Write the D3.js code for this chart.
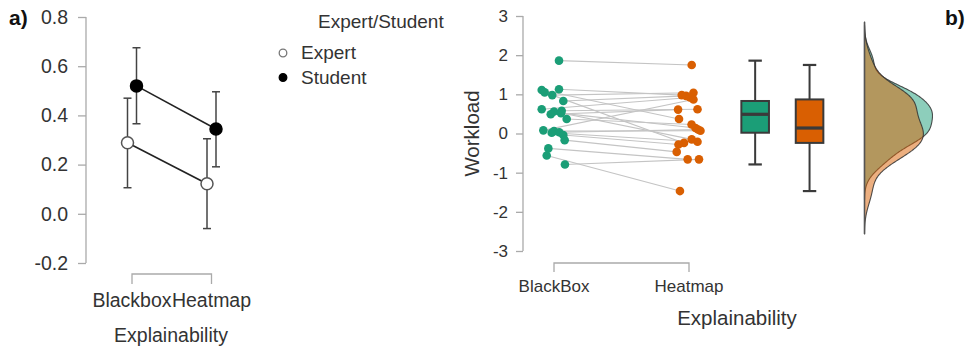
<!DOCTYPE html>
<html>
<head>
<meta charset="utf-8">
<script src="https://cdn.jsdelivr.net/npm/d3@7"></script>
<style>
  html, body { margin: 0; padding: 0; background: #fff; }
  svg { display: block; font-family: "Liberation Sans", Arial, sans-serif; }
</style>
</head>
<body>
<svg id="chart" width="968" height="347"></svg>
<script>
// ---- Panel a: descriptives (mean with 95% CI) ----
const conditionsA = ["Blackbox", "Heatmap"];
const groupsA = ["Expert", "Student"];
const meanExpert = [0.289, 0.122];
const lowerExpert = [0.106, -0.060];
const upperExpert = [0.470, 0.305];
const meanStudent = [0.520, 0.345];
const lowerStudent = [0.366, 0.191];
const upperStudent = [0.675, 0.496];
const yTicksA = [-0.2, 0.0, 0.2, 0.4, 0.6, 0.8];

// ---- Panel b: raincloud of Workload per participant ----
const conditionsB = ["BlackBox", "Heatmap"];
const workloadBlackBox = [1.86, 1.13, 1.11, 1.05, 0.98, 0.83, 0.62, 0.58, 0.56, 0.52, 0.49,
                          0.37, 0.08, 0.06, 0.03, 0.02, -0.04, -0.17, -0.38, -0.56, -0.79];
const workloadHeatmap = [1.75, 0.98, 0.37, -0.24, 1.04, 0.96, 0.92, 0.62, -0.15, 0.14, 0.61,
                         0.23, 0.87, 0.07, 0.10, -0.21, -0.28, -0.47, -0.66, -1.47, -0.66];
// horizontal jitter of each participant's point, in category units
const jitterBlackBox = [0.037, 0.037, -0.091, -0.069, -0.013, 0.069, -0.091, 0.057, 0.000, 0.052, -0.024,
                        0.094, -0.079, 0.000, 0.039, -0.017, 0.069, 0.079, -0.042, -0.054, 0.081];
const jitterHeatmap = [0.020, -0.054, -0.074, -0.037, 0.033, -0.022, 0.007, 0.063, 0.020, 0.048, -0.081,
                       0.019, 0.033, 0.085, 0.067, 0.063, -0.078, -0.091, -0.010, -0.067, 0.074];
const yTicksB = [-3, -2, -1, 0, 1, 2, 3];

const colGreen = "#1b9e77";
const colOrange = "#d95f02";
const textCol = "#333";
const axisCol = "#aaa";

// plain hyphen-minus for negative tick labels
const hyphen = f => v => f(v).replace("\u2212", "-");

const svg = d3.select("#chart");
svg.append("rect").attr("width", 968).attr("height", 347).attr("fill", "#fff");

// ================= Panel a =================
const gA = svg.append("g");
const yA = d3.scaleLinear().domain([-0.2, 0.8]).range([263, 17]);
const xA = d3.scalePoint().domain(conditionsA).range([132, 211.5]);
const dodge = { Expert: -4.5, Student: 4.5 };

const axA = gA.append("g").attr("transform", "translate(86,0)")
  .call(d3.axisLeft(yA).tickValues(yTicksA).tickFormat(hyphen(d3.format(".1f"))).tickSize(8).tickPadding(10));
axA.select(".domain").attr("stroke", axisCol).attr("stroke-width", 1.3).attr("d", `M0,${yA(0.8)}V${yA(-0.2)}`);
axA.selectAll(".tick line").attr("stroke", axisCol).attr("stroke-width", 1.3);
axA.selectAll(".tick text").attr("fill", textCol).style("font-size", "19.5px")
  .style("font-family", "Liberation Sans, Arial, sans-serif");

// category bracket
gA.append("path")
  .attr("d", `M${xA("Blackbox")},284V274H${xA("Heatmap")}V284`)
  .attr("fill", "none").attr("stroke", axisCol).attr("stroke-width", 1.3);
gA.selectAll("text.catA").data(conditionsA).join("text")
  .attr("class", "catA")
  .attr("x", d => xA(d)).attr("y", 306.5)
  .attr("text-anchor", "middle").attr("fill", textCol).style("font-size", "19.5px")
  .text(d => d);
gA.append("text").attr("x", 171).attr("y", 342).attr("text-anchor", "middle")
  .attr("fill", textCol).style("font-size", "19.5px").text("Explainability");

const seriesA = [
  { group: "Expert", mean: meanExpert, lo: lowerExpert, hi: upperExpert, fill: "#fff" },
  { group: "Student", mean: meanStudent, lo: lowerStudent, hi: upperStudent, fill: "#000" }
];
seriesA.forEach(s => {
  const px = c => xA(c) + dodge[s.group];
  // error bars
  conditionsA.forEach((c, i) => {
    const x = px(c);
    const g = gA.append("g").attr("stroke", "#444").attr("stroke-width", 1.5);
    g.append("line").attr("x1", x).attr("x2", x).attr("y1", yA(s.lo[i])).attr("y2", yA(s.hi[i]));
    g.append("line").attr("x1", x - 4).attr("x2", x + 4).attr("y1", yA(s.lo[i])).attr("y2", yA(s.lo[i]));
    g.append("line").attr("x1", x - 4).attr("x2", x + 4).attr("y1", yA(s.hi[i])).attr("y2", yA(s.hi[i]));
  });
  // connecting line
  gA.append("path")
    .datum(conditionsA.map((c, i) => [px(c), yA(s.mean[i])]))
    .attr("d", d3.line())
    .attr("fill", "none").attr("stroke", "#222").attr("stroke-width", 1.6);
});
seriesA.forEach(s => {
  gA.selectAll(null).data(conditionsA).join("circle")
    .attr("cx", c => xA(c) + dodge[s.group])
    .attr("cy", (c, i) => yA(s.mean[i]))
    .attr("r", 6)
    .attr("fill", s.fill).attr("stroke", s.group === "Expert" ? "#555" : "#000").attr("stroke-width", 1.5);
});

// legend
gA.append("text").attr("x", 318).attr("y", 28).attr("fill", textCol).style("font-size", "19px").text("Expert/Student");
groupsA.forEach((g, i) => {
  const y = 53 + i * 24.5;
  gA.append("circle").attr("cx", 283).attr("cy", y).attr("r", 3.8)
    .attr("fill", g === "Expert" ? "#fff" : "#000")
    .attr("stroke", g === "Expert" ? "#777" : "#000").attr("stroke-width", 1.3);
  gA.append("text").attr("x", 301).attr("y", y + 6).attr("fill", textCol).style("font-size", "19px").text(g);
});

// panel tag
svg.append("text").attr("x", 9).attr("y", 25).attr("fill", "#111")
  .style("font-size", "21px").style("font-weight", "bold").text("a)");

// ================= Panel b =================
const gB = svg.append("g");
const yB = d3.scaleLinear().domain([-3, 3]).range([251, 16]);
const xB = d3.scaleLinear().domain([1, 2]).range([554, 689]);
const boxPos = [2.49, 2.893];   // x of the two boxes
const boxHalf = 13.8, capHalf = 6.7;
const densBase = xB(3.3);        // baseline of the half-violins
const densWidth = 68;

const axB = gB.append("g").attr("transform", "translate(523,0)")
  .call(d3.axisLeft(yB).tickValues(yTicksB).tickFormat(hyphen(d3.format("d"))).tickSize(7).tickPadding(8));
axB.select(".domain").attr("stroke", axisCol).attr("stroke-width", 1.3).attr("d", `M0,${yB(3)}V${yB(-3)}`);
axB.selectAll(".tick line").attr("stroke", axisCol).attr("stroke-width", 1.3);
axB.selectAll(".tick text").attr("fill", textCol).style("font-size", "17px")
  .style("font-family", "Liberation Sans, Arial, sans-serif");

gB.append("text")
  .attr("transform", `translate(479,${yB(0)}) rotate(-90)`)
  .attr("text-anchor", "middle").attr("fill", textCol).style("font-size", "20.5px").text("Workload");

gB.append("path")
  .attr("d", `M${xB(1)},272V263H${xB(2)}V272`)
  .attr("fill", "none").attr("stroke", axisCol).attr("stroke-width", 1.3);
gB.selectAll("text.catB").data(conditionsB).join("text")
  .attr("class", "catB")
  .attr("x", (d, i) => xB(i + 1)).attr("y", 291.5)
  .attr("text-anchor", "middle").attr("fill", textCol).style("font-size", "17px")
  .text(d => d);
gB.append("text").attr("x", 737).attr("y", 325).attr("text-anchor", "middle")
  .attr("fill", textCol).style("font-size", "20.5px").text("Explainability");

// paired lines
gB.selectAll("line.pair").data(workloadBlackBox).join("line")
  .attr("class", "pair")
  .attr("x1", (d, i) => xB(1 + jitterBlackBox[i])).attr("y1", d => yB(d))
  .attr("x2", (d, i) => xB(2 + jitterHeatmap[i])).attr("y2", (d, i) => yB(workloadHeatmap[i]))
  .attr("stroke", "#c4c4c4").attr("stroke-width", 1.1);

// points
gB.selectAll("circle.bb").data(workloadBlackBox).join("circle")
  .attr("class", "bb")
  .attr("cx", (d, i) => xB(1 + jitterBlackBox[i])).attr("cy", d => yB(d))
  .attr("r", 4.3).attr("fill", colGreen);
gB.selectAll("circle.hm").data(workloadHeatmap).join("circle")
  .attr("class", "hm")
  .attr("cx", (d, i) => xB(2 + jitterHeatmap[i])).attr("cy", d => yB(d))
  .attr("r", 4.3).attr("fill", colOrange);

// boxplots (Tukey whiskers)
function boxStats(values) {
  const s = values.slice().sort(d3.ascending);
  const q1 = d3.quantile(s, 0.25), med = d3.quantile(s, 0.5), q3 = d3.quantile(s, 0.75);
  const iqr = q3 - q1;
  const lo = d3.min(s.filter(v => v >= q1 - 1.5 * iqr));
  const hi = d3.max(s.filter(v => v <= q3 + 1.5 * iqr));
  return { q1, med, q3, lo, hi };
}
[[workloadBlackBox, colGreen], [workloadHeatmap, colOrange]].forEach(([vals, col], i) => {
  const b = boxStats(vals);
  const cx = xB(boxPos[i]);
  const g = gB.append("g").attr("stroke", "#3a3a3a");
  g.append("line").attr("x1", cx).attr("x2", cx).attr("y1", yB(b.hi)).attr("y2", yB(b.q3)).attr("stroke-width", 2);
  g.append("line").attr("x1", cx).attr("x2", cx).attr("y1", yB(b.q1)).attr("y2", yB(b.lo)).attr("stroke-width", 2);
  g.append("line").attr("x1", cx - capHalf).attr("x2", cx + capHalf).attr("y1", yB(b.hi)).attr("y2", yB(b.hi)).attr("stroke-width", 2.2);
  g.append("line").attr("x1", cx - capHalf).attr("x2", cx + capHalf).attr("y1", yB(b.lo)).attr("y2", yB(b.lo)).attr("stroke-width", 2.2);
  g.append("rect").attr("x", cx - boxHalf).attr("width", 2 * boxHalf)
    .attr("y", yB(b.q3)).attr("height", yB(b.q1) - yB(b.q3))
    .attr("fill", col).attr("stroke-width", 2);
  g.append("line").attr("x1", cx - boxHalf).attr("x2", cx + boxHalf).attr("y1", yB(b.med)).attr("y2", yB(b.med)).attr("stroke-width", 3.2);
});

// kernel density (gaussian, Silverman's rule of thumb, range extended by 3 bandwidths)
function kde(values) {
  const s = values.slice().sort(d3.ascending);
  const n = s.length;
  const sd = d3.deviation(s);
  const iqr = d3.quantile(s, 0.75) - d3.quantile(s, 0.25);
  const bw = 0.9 * Math.min(sd, iqr / 1.34) * Math.pow(n, -0.2);
  const lo = s[0] - 3 * bw, hi = s[n - 1] + 3 * bw;
  const pts = [];
  const m = 256;
  for (let k = 0; k <= m; k++) {
    const y = lo + (hi - lo) * k / m;
    let dens = 0;
    for (const v of s) { const z = (y - v) / bw; dens += Math.exp(-0.5 * z * z); }
    pts.push([y, dens / (n * bw * Math.sqrt(2 * Math.PI))]);
  }
  return pts;
}
const densities = [kde(workloadBlackBox), kde(workloadHeatmap)];
const maxDens = d3.max(densities, d => d3.max(d, p => p[1]));
const wScale = d3.scaleLinear().domain([0, maxDens]).range([0, densWidth]);
const area = d3.area()
  .curve(d3.curveBasis)
  .y(p => yB(p[0]))
  .x0(densBase)
  .x1(p => densBase + wScale(p[1]));
[[densities[0], colGreen], [densities[1], colOrange]].forEach(([d, col]) => {
  gB.append("path").datum(d).attr("d", area)
    .attr("fill", col).attr("fill-opacity", 0.5)
    .attr("stroke", "#333").attr("stroke-width", 1.1).attr("stroke-opacity", 0.85);
});
const dLo = d3.min(densities, d => d[0][0]);
const dHi = d3.max(densities, d => d[d.length - 1][0]);
gB.append("line").attr("x1", densBase).attr("x2", densBase)
  .attr("y1", yB(dHi)).attr("y2", yB(dLo))
  .attr("stroke", "#555").attr("stroke-width", 1.5);

svg.append("text").attr("x", 945).attr("y", 25).attr("fill", "#111")
  .style("font-size", "21px").style("font-weight", "bold").text("b)");
</script>
</body>
</html>
